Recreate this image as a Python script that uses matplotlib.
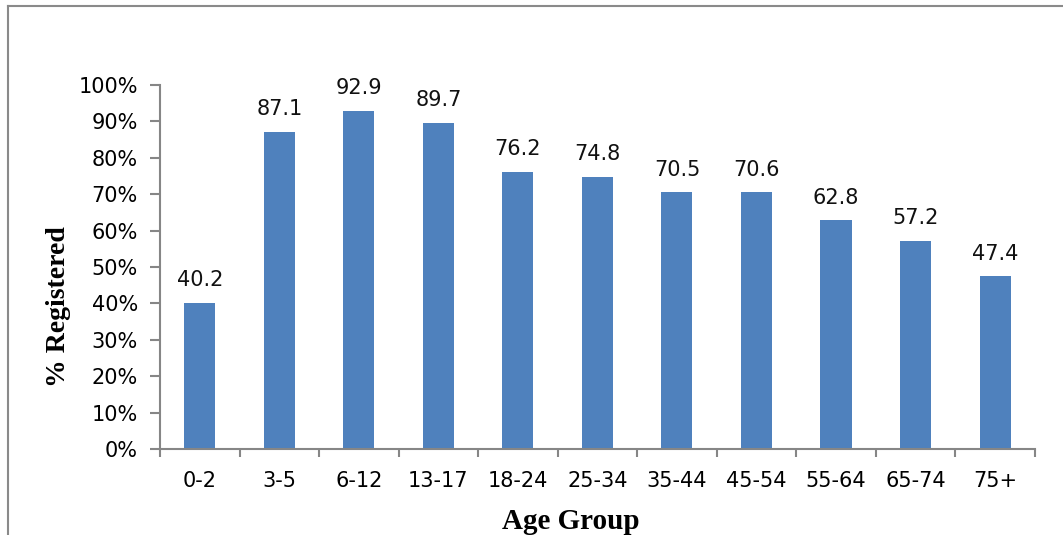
import matplotlib
matplotlib.use("Agg")
import matplotlib.pyplot as plt
from matplotlib.lines import Line2D
from matplotlib.ticker import FixedLocator, PercentFormatter

categories = ["0-2", "3-5", "6-12", "13-17", "18-24", "25-34", "35-44", "45-54", "55-64", "65-74", "75+"]
values = [40.2, 87.1, 92.9, 89.7, 76.2, 74.8, 70.5, 70.6, 62.8, 57.2, 47.4]
yticks = [0, 10, 20, 30, 40, 50, 60, 70, 80, 90, 100]

fig = plt.figure(figsize=(10.63, 5.35), dpi=100)
ax = fig.add_axes([0.1505, 0.1607, 0.823, 0.6804])

x = list(range(len(categories)))
bars = ax.bar(x, values, width=0.39, color="#4F81BD", zorder=2)

for xi, v in zip(x, values):
    ax.annotate(f"{v:.1f}", (xi, v), xytext=(0, 9), textcoords="offset points",
                ha="center", va="bottom", fontsize=15, family="DejaVu Sans", color="#111111")

ax.set_xlim(-0.5, len(categories) - 0.5)
ax.set_ylim(0, 100)
ax.set_xticks(x)
ax.set_xticklabels(categories, fontsize=15)
ax.xaxis.set_minor_locator(FixedLocator([i - 0.5 for i in range(len(categories) + 1)]))
ax.tick_params(axis="x", which="major", length=0, pad=16)
ax.tick_params(axis="x", which="minor", length=6, width=1.5, color="#868686", direction="out")
ax.set_yticks(yticks)
ax.yaxis.set_major_formatter(PercentFormatter(decimals=0))
ax.tick_params(axis="y", which="major", length=7, width=1.5, color="#868686", labelsize=15, pad=9)

for s in ["top", "right"]:
    ax.spines[s].set_visible(False)
for s in ["left", "bottom"]:
    ax.spines[s].set_color("#868686")
    ax.spines[s].set_linewidth(1.5)

ax.set_ylabel("% Registered", family="Liberation Serif", fontweight="bold", fontsize=20)
ax.yaxis.set_label_coords(-0.102, 0.39)
ax.set_xlabel("Age Group", family="Liberation Serif", fontweight="bold", fontsize=21)
ax.xaxis.set_label_coords(0.469, -0.162)

# outer frame (left and top edges)
fig.add_artist(Line2D([8 / 1063, 8 / 1063], [0, 1 - 6 / 535], transform=fig.transFigure, color="#8a8a8a", lw=1.5))
fig.add_artist(Line2D([8 / 1063, 1], [1 - 6 / 535, 1 - 6 / 535], transform=fig.transFigure, color="#8a8a8a", lw=1.5))

fig.savefig("out.png", dpi=100)
